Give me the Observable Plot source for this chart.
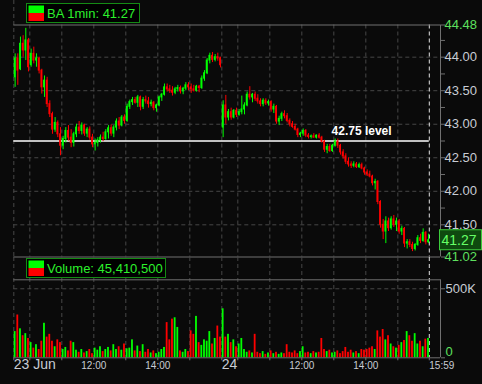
<!DOCTYPE html>
<html><head><meta charset="utf-8">
<script src="https://cdn.jsdelivr.net/npm/d3@7"></script>
<script src="https://cdn.jsdelivr.net/npm/@observablehq/plot@0.6"></script>
<style>
html,body{margin:0;padding:0;background:#0a0a0a;}
#wrap{position:relative;width:482px;height:384px;background:#0a0a0a;overflow:hidden;}
#wrap svg{position:absolute;left:0;}
</style></head>
<body><div id="wrap"></div>
<script>
// ---- data: 5-minute bars, two sessions (23 Jun, 24 Jun) ----
const open1 = [43.70,43.98,43.82,44.20,44.10,44.25,43.88,44.05,43.95,43.98, 43.80,43.55,43.65,43.30,43.15,42.92,43.02,42.85,42.68,42.78, 42.90,42.80,42.72,42.85,42.95,42.90,42.98,42.86,42.92,42.80, 42.70,42.72,42.76,42.80,42.78,42.88,42.94,42.86,42.95,43.04, 42.98,43.10,43.05,43.26,43.33,43.36,43.32,43.40,43.26,43.36, 43.34,43.30,43.32,43.24,43.28,43.40,43.44,43.55,43.52,43.50, 43.47,43.52,43.54,43.49,43.53,43.58,43.55,43.52,43.50,43.56, 43.54,43.68,43.76,43.95,44.02,43.96,44.00,43.98];
const high1 = [44.05,44.05,44.30,44.32,44.43,44.28,44.12,44.15,44.05,44.00, 43.82,43.72,43.70,43.35,43.18,43.10,43.05,42.95,42.82,42.95, 42.98,42.92,42.88,43.00,43.04,43.02,43.00,42.95,42.96,42.85, 42.78,42.80,42.84,42.88,42.92,42.98,42.99,42.98,43.08,43.10, 43.13,43.14,43.30,43.36,43.40,43.40,43.43,43.42,43.40,43.42, 43.40,43.36,43.34,43.30,43.42,43.46,43.60,43.60,43.58,43.56, 43.55,43.58,43.57,43.55,43.62,43.62,43.60,43.58,43.58,43.58, 43.72,43.80,43.98,44.06,44.07,44.04,44.06,44.00];
const low1 = [43.55,43.58,43.80,44.00,43.95,43.78,43.85,43.90,43.85,43.75, 43.45,43.40,43.25,43.10,42.85,42.88,42.80,42.53,42.62,42.72, 42.75,42.65,42.66,42.80,42.85,42.84,42.82,42.80,42.76,42.65, 42.60,42.66,42.72,42.74,42.76,42.78,42.82,42.80,42.90,42.92, 42.96,43.00,43.03,43.22,43.28,43.30,43.25,43.20,43.22,43.30, 43.24,43.26,43.20,43.18,43.26,43.34,43.42,43.48,43.46,43.42, 43.44,43.48,43.45,43.44,43.50,43.50,43.46,43.48,43.48,43.47, 43.52,43.64,43.74,43.90,43.92,43.93,43.94,43.84];
const close1 = [43.98,43.80,44.20,44.10,44.25,43.85,44.05,43.95,43.98,43.80, 43.55,43.65,43.30,43.15,42.92,43.02,42.85,42.68,42.78,42.90, 42.80,42.72,42.85,42.95,42.90,42.98,42.86,42.92,42.80,42.70, 42.72,42.76,42.80,42.78,42.88,42.94,42.86,42.95,43.04,42.98, 43.10,43.05,43.26,43.33,43.36,43.32,43.40,43.26,43.36,43.34, 43.30,43.32,43.24,43.28,43.40,43.44,43.55,43.52,43.50,43.47, 43.52,43.54,43.49,43.53,43.58,43.55,43.52,43.50,43.56,43.54, 43.68,43.76,43.95,44.02,43.96,44.00,43.98,43.88];
const vol1 = [190,310,210,160,175,140,110,70,95,60, 120,250,150,170,120,80,130,110,60,75, 50,120,110,55,40,60,35,45,60,30, 70,55,80,45,60,75,50,95,60,80, 55,100,65,70,130,50,85,45,95,40, 60,35,50,30,40,60,75,255,130,280, 290,220,50,40,60,45,195,170,300,110, 90,130,120,190,100,140,230,150];

const open2 = [42.95,43.28,43.10,43.18,43.10,43.20,43.14,43.18,43.22,43.28, 43.44,43.40,43.44,43.38,43.34,43.30,43.35,43.31,43.33,43.22, 43.26,43.04,43.08,43.15,43.12,43.05,43.00,42.96,42.92,42.84, 42.86,42.90,42.83,42.81,42.82,42.80,42.83,42.80,42.74,42.62, 42.66,42.60,42.68,42.74,42.68,42.58,42.52,42.44,42.40,42.38, 42.40,42.36,42.39,42.34,42.28,42.25,42.22,42.12,42.14,41.84, 41.50,41.40,41.55,41.45,41.58,41.50,41.55,41.40,41.44,41.22, 41.24,41.20,41.14,41.20,41.30,41.26,41.38,41.24];
const high2 = [43.35,43.43,43.22,43.24,43.22,43.24,43.22,43.42,43.32,43.48, 43.56,43.46,43.48,43.44,43.38,43.38,43.38,43.36,43.35,43.30, 43.28,43.12,43.18,43.20,43.16,43.08,43.04,43.00,42.94,42.88, 42.93,42.92,42.86,42.84,42.86,42.84,42.86,42.82,42.76,42.70, 42.70,42.70,42.78,42.78,42.70,42.62,42.56,42.50,42.44,42.44, 42.43,42.42,42.42,42.36,42.32,42.30,42.24,42.18,42.16,41.86, 41.58,41.62,41.60,41.62,41.64,41.60,41.58,41.48,41.46,41.28, 41.28,41.24,41.22,41.34,41.36,41.44,41.40,41.36];
const low2 = [42.80,43.00,43.05,43.06,43.08,43.10,43.12,43.14,43.14,43.26, 43.36,43.32,43.34,43.30,43.26,43.26,43.28,43.27,43.18,43.16, 43.00,42.98,43.04,43.08,43.02,42.96,42.94,42.90,42.80,42.80, 42.82,42.80,42.78,42.78,42.79,42.78,42.78,42.72,42.58,42.56, 42.58,42.58,42.66,42.64,42.54,42.48,42.40,42.36,42.34,42.35, 42.34,42.34,42.32,42.24,42.22,42.20,42.08,42.02,41.80,41.45, 41.28,41.22,41.40,41.42,41.46,41.40,41.36,41.34,41.16,41.14, 41.16,41.10,41.11,41.18,41.22,41.24,41.20,41.22];
const close2 = [43.28,43.10,43.18,43.10,43.20,43.14,43.18,43.22,43.28,43.44, 43.40,43.44,43.38,43.34,43.30,43.35,43.31,43.33,43.22,43.26, 43.04,43.08,43.15,43.12,43.05,43.00,42.96,42.92,42.84,42.86, 42.90,42.83,42.81,42.82,42.80,42.83,42.80,42.74,42.62,42.66, 42.60,42.68,42.74,42.68,42.58,42.52,42.44,42.40,42.38,42.40, 42.36,42.39,42.34,42.28,42.25,42.22,42.12,42.14,41.84,41.50, 41.40,41.55,41.45,41.58,41.50,41.55,41.40,41.44,41.22,41.24, 41.20,41.14,41.20,41.30,41.26,41.38,41.24,41.27];
const vol2 = [355,150,170,110,130,80,100,140,60,40, 50,35,170,40,30,45,25,35,50,30, 40,25,35,30,95,40,35,50,30,45, 80,35,40,30,45,35,40,140,60,45, 55,35,40,50,30,45,75,40,55,35, 45,30,60,55,60,70,80,60,195,150, 205,130,160,100,80,70,90,110,125,190, 160,120,175,100,120,80,135,140];

const priceTicks = [41.5, 42.0, 42.5, 43.0, 43.5, 44.0];
const priceMinorTicks = [41.25, 41.75, 42.25, 42.75, 43.25, 43.75, 44.25];
const PRICE_MIN = 41.02, PRICE_MAX = 44.48;
const LEVEL = 42.75, LEVEL_TEXT = "42.75 level", LEVEL_LABEL_MIN = 652;
const LAST = 41.27;
const gridMinutes = [30, 90, 150, 210, 270, 330, 390, 420, 480, 540, 600, 660, 720];
const LAST_MIN = 779, XMAX = 800;
const xLabelsBig = [{m: 0, t: "23 Jun"}, {m: 390, t: "24"}];
const xLabelsSmall = [{m: 150, t: "12:00"}, {m: 270, t: "14:00"}, {m: 540, t: "12:00"}, {m: 660, t: "14:00"}];
const xLabelEnd = [{m: 779, t: "15:59"}];
const VOL_GRID = 500000, VOL_TOP = 565000;
const TITLE = "BA 1min: 41.27";
const VOL_TITLE = "Volume: 45,410,500";

// ---- build table ----
const bars = [];
[[open1, high1, low1, close1, vol1], [open2, high2, low2, close2, vol2]].forEach(([o, h, l, c, v], day) => {
  o.forEach((_, i) => bars.push({t: day * 390 + i * 5, o: o[i], h: h[i], l: l[i], c: c[i], v: v[i] * 1000}));
});

const UP = "#00ff00", DN = "#ff0000", GRID = "#474747", BORDER = "#707070", LABEL = "#c8ccd4", GLABEL = "#5ee05e";
const col = d => d.c >= d.o ? UP : DN;
const dash = "4,3";
const font = "'Liberation Sans', Arial, sans-serif";

const price = Plot.plot({
  width: 482, height: 270,
  marginLeft: 13.3, marginRight: 42, marginTop: 24.5, marginBottom: 13.5,
  style: {background: "transparent", overflow: "visible", fontFamily: font, fontSize: "13px", color: LABEL},
  x: {domain: [0, XMAX], axis: null},
  y: {domain: [PRICE_MIN, PRICE_MAX], axis: null},
  color: {type: "identity"},
  marks: [
    Plot.ruleY(priceTicks, {x1: 0, x2: XMAX, stroke: GRID, strokeDasharray: dash}),
    Plot.ruleX(gridMinutes, {stroke: GRID, strokeDasharray: dash}),
    Plot.ruleX([0], {stroke: GRID, strokeDasharray: dash, insetTop: -24.5}),
    Plot.ruleX([LAST_MIN], {stroke: "#e0e0e0", strokeDasharray: dash}),
    Plot.ruleY([PRICE_MIN, PRICE_MAX], {x1: 0, x2: XMAX, stroke: BORDER}),
    Plot.ruleX([XMAX], {stroke: BORDER}),
    Plot.ruleY([LEVEL], {x1: 0, x2: LAST_MIN, stroke: "#ffffff", strokeWidth: 1.6}),
    Plot.ruleX(bars, {x: d => d.t + 2.5, y1: "l", y2: "h", stroke: col, strokeWidth: 1}),
    Plot.rect(bars, {x1: d => d.t + 0.8, x2: d => d.t + 4.2, y1: "o", y2: "c", fill: col, insetTop: -0.5, insetBottom: -0.5}),
    Plot.text([LEVEL], {x: LEVEL_LABEL_MIN, y: d => d, text: () => LEVEL_TEXT, fill: "#ffffff", fontWeight: "bold", fontSize: 12, lineAnchor: "bottom", dy: -6, fontFamily: font}),
    Plot.axisY({anchor: "right", label: null, ticks: priceTicks, tickFormat: d => d.toFixed(2), tickSize: 4, tickPadding: 0, stroke: BORDER, fill: LABEL, fontSize: 13}),
    Plot.axisY({anchor: "right", label: null, ticks: priceMinorTicks, tickFormat: () => "", tickSize: 4, stroke: BORDER}),
    Plot.axisY({anchor: "right", label: null, ticks: [PRICE_MIN, PRICE_MAX], tickFormat: () => "", tickSize: 4, stroke: BORDER}),
    Plot.text([PRICE_MIN, PRICE_MAX], {x: XMAX, y: d => d, text: d => d.toFixed(2), textAnchor: "start", dx: 4, fill: GLABEL, fontSize: 13, fontFamily: font})
  ]
});

const volume = Plot.plot({
  width: 482, height: 127,
  marginLeft: 13.3, marginRight: 42, marginTop: 22.3, marginBottom: 26.7,
  style: {background: "transparent", overflow: "visible", fontFamily: font, fontSize: "13px", color: LABEL},
  x: {domain: [0, XMAX], axis: null},
  y: {domain: [0, VOL_TOP], axis: null},
  color: {type: "identity"},
  marks: [
    Plot.ruleY([VOL_GRID], {x1: 0, x2: XMAX, stroke: GRID, strokeDasharray: dash}),
    Plot.ruleX([0, ...gridMinutes], {stroke: GRID, strokeDasharray: dash, insetTop: -22.3}),
    Plot.ruleX([LAST_MIN], {stroke: "#e0e0e0", strokeDasharray: dash, insetTop: -22.3}),
    Plot.ruleY([VOL_TOP], {x1: 0, x2: XMAX, stroke: BORDER}),
    Plot.ruleX([XMAX], {y1: 0, y2: VOL_TOP, stroke: BORDER}),
    Plot.rect(bars, {x1: d => d.t + 0.8, x2: d => d.t + 4.2, y1: 0, y2: "v", fill: col}),
    Plot.ruleY([0], {x1: 0, x2: XMAX, stroke: BORDER}),
    Plot.axisY({anchor: "right", label: null, ticks: [0, VOL_GRID], tickFormat: d => d ? "500K" : "", tickSize: 4, tickPadding: 1, stroke: BORDER, fill: LABEL, fontSize: 13}),
    Plot.text([0], {x: XMAX, y: d => d, text: () => "0", textAnchor: "start", lineAnchor: "bottom", dx: 5, dy: -2, fill: GLABEL, fontSize: 13, fontFamily: font}),
    Plot.axisX({label: null, ticks: [0, ...gridMinutes, LAST_MIN], tickFormat: () => "", tickSize: 3, stroke: BORDER}),
    Plot.text(xLabelsBig, {x: "m", text: "t", frameAnchor: "bottom", dy: 11, textAnchor: "start", fill: LABEL, fontSize: 14, fontFamily: font}),
    Plot.text(xLabelsSmall, {x: "m", text: "t", frameAnchor: "bottom", dy: 11, textAnchor: "middle", fill: LABEL, fontSize: 10, fontFamily: font}),
    Plot.text(xLabelEnd, {x: "m", text: "t", frameAnchor: "bottom", dy: 11, textAnchor: "start", fill: LABEL, fontSize: 10, fontFamily: font})
  ]
});

const wrap = document.getElementById("wrap");
price.style.top = "0px";
volume.style.top = "257px";
wrap.appendChild(price);
wrap.appendChild(volume);

// legends / badges drawn on top using library scales
function legendBox(svg, y0, w, label) {
  const g = d3.select(svg).append("g");
  g.append("rect").attr("x", 26.5).attr("y", y0 + 0.5).attr("width", w).attr("height", 19).attr("fill", "#000").attr("stroke", "#148a14");
  g.append("rect").attr("x", 28.5).attr("y", y0 + 2.5).attr("width", 15.5).attr("height", 7.5).attr("fill", UP);
  g.append("rect").attr("x", 28.5).attr("y", y0 + 10).attr("width", 15.5).attr("height", 8).attr("fill", DN);
  g.append("text").attr("x", 47).attr("y", y0 + 10.5).attr("dominant-baseline", "central").attr("text-anchor", "start")
    .attr("fill", "#2cf02c").style("font", "13px " + font).text(label);
}
legendBox(price, 3, 113, TITLE);
legendBox(volume, 1, 139, VOL_TITLE);

const ys = price.scale("y");
const yl = ys.apply(LAST);
const gb = d3.select(price).append("g");
gb.append("rect").attr("x", 439.5).attr("y", yl - 10).attr("width", 42).attr("height", 20).attr("fill", "#0f4a0f").attr("stroke", "#3ccc3c");
gb.append("text").attr("x", 441.5).attr("y", yl).attr("dominant-baseline", "central").attr("text-anchor", "start").attr("fill", "#66ff66").style("font", "14px " + font).text(LAST.toFixed(2));
</script></body></html>
